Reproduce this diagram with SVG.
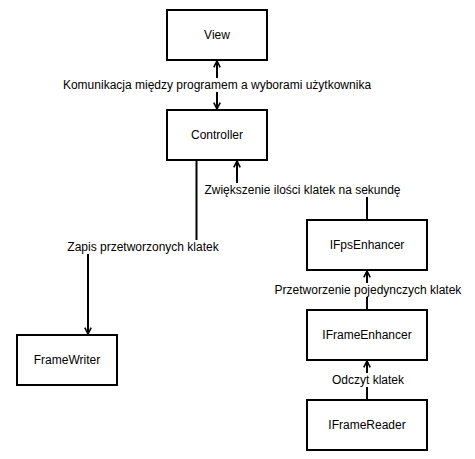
<svg xmlns="http://www.w3.org/2000/svg" width="475" height="459" viewBox="0 0 475 459">
<style>
.node rect{fill:#fff;stroke:#000;stroke-width:2}
.node text,.lbl text{font-family:"Liberation Sans",Arial,sans-serif;font-size:12px;fill:#000;text-anchor:middle;dominant-baseline:central}
.conn path{fill:none;stroke:#000;stroke-width:2}
.lbl rect{fill:#fff}
</style>
<defs>
<marker id="arr" viewBox="0 0 10 10" refX="9" refY="5" markerWidth="8" markerHeight="8" markerUnits="userSpaceOnUse" orient="auto-start-reverse">
<path d="M1,1 L9,5 L1,9" fill="none" stroke="#000" stroke-width="2"/>
</marker>
</defs>
<rect width="475" height="459" fill="#fff"/>
<g id="connectors" class="conn">
<path d="M217,61 L217,109" marker-start="url(#arr)" marker-end="url(#arr)"/>
<path d="M196.5,161 L196.5,247 L88,247 L88,334" marker-end="url(#arr)"/>
<path d="M367,220 L367,190 L237,190 L237,161" marker-end="url(#arr)"/>
<path d="M367,310 L367,271" marker-end="url(#arr)"/>
<path d="M367,400 L367,361" marker-end="url(#arr)"/>
</g>
<g id="labels" class="lbl">
<g id="lbl-komunikacja"><rect x="59" y="78" width="316" height="14"/><text x="217" y="85">Komunikacja między programem a wyborami użytkownika</text></g>
<g id="lbl-zwiekszenie"><rect x="200" y="183" width="205" height="14"/><text x="302.5" y="190">Zwiększenie ilości klatek na sekundę</text></g>
<g id="lbl-zapis"><rect x="66" y="240" width="154" height="14"/><text x="143" y="247">Zapis przetworzonych klatek</text></g>
<g id="lbl-przetworzenie"><rect x="275" y="283" width="186" height="14"/><text x="368" y="290">Przetworzenie pojedynczych klatek</text></g>
<g id="lbl-odczyt"><rect x="333" y="373" width="70" height="14"/><text x="368" y="380">Odczyt klatek</text></g>
</g>
<g id="view" class="node"><rect x="167" y="10" width="100" height="50"/><text x="217" y="35">View</text></g>
<g id="controller" class="node"><rect x="167" y="110" width="100" height="50"/><text x="217" y="135">Controller</text></g>
<g id="framewriter" class="node"><rect x="17" y="335" width="100" height="50"/><text x="67" y="360">FrameWriter</text></g>
<g id="ifpsenhancer" class="node"><rect x="307" y="220" width="120" height="50"/><text x="367" y="245">IFpsEnhancer</text></g>
<g id="iframeenhancer" class="node"><rect x="307" y="310" width="120" height="50"/><text x="367" y="335">IFrameEnhancer</text></g>
<g id="iframereader" class="node"><rect x="307" y="400" width="120" height="50"/><text x="367" y="425">IFrameReader</text></g>
</svg>
